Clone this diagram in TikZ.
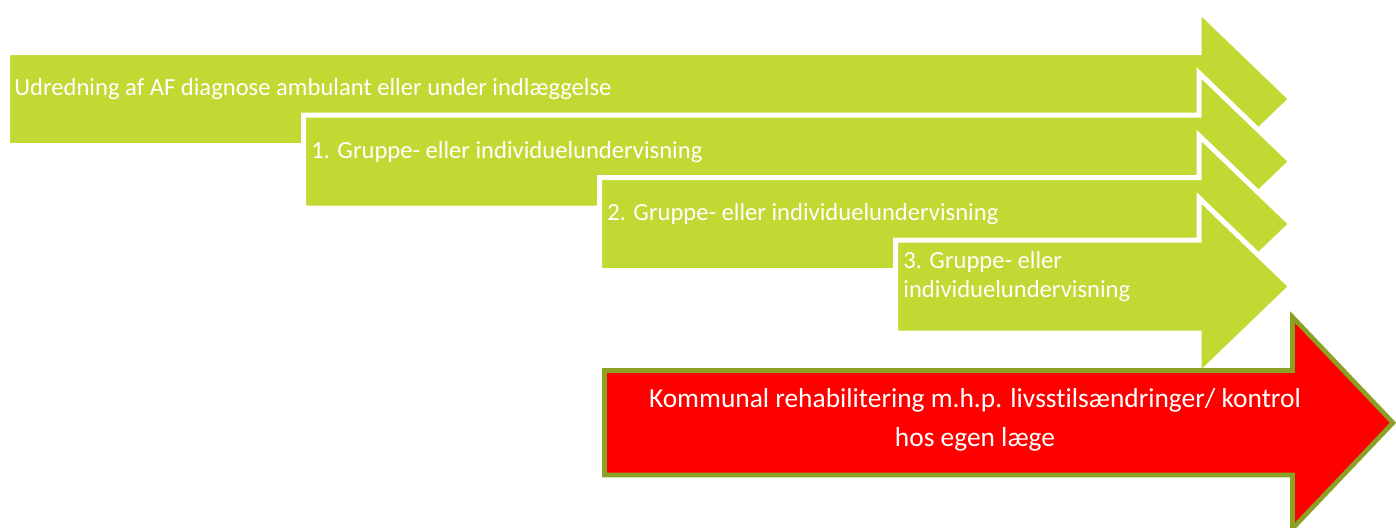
\documentclass[tikz,border=0pt]{standalone}
\usepackage{fontspec}
\setmainfont{Carlito}[Ligatures=CommonOff]
\definecolor{leafgreen}{RGB}{194,216,51}
\definecolor{olivedrab}{RGB}{139,160,36}
\definecolor{signalred}{RGB}{255,0,0}
\begin{document}
\begin{tikzpicture}[x=0.5pt, y=-0.5pt,
    greenarrow/.style={fill=leafgreen, draw=white, line width=2.5pt},
    redarrow/.style={fill=signalred, draw=olivedrab, line width=2.3pt},
    steptext/.style={anchor=base west, text=white, inner sep=0pt, align=left, font=\fontsize{12.3}{14.5}\selectfont},
    redtext/.style={anchor=base, text=white, inner sep=0pt, align=center, font=\fontsize{13.7}{19.3}\selectfont}
]
    \clip (0,0) rectangle (1396,527);

    % --- green steps ---
    \draw[greenarrow] (7.5,52.5) -- (1199,52.5) -- (1199,10.5) -- (1291,99) -- (1199,187.5) -- (1199,145.5) -- (7.5,145.5) -- cycle;
    \node[steptext] (udredning) at (14,95) {Udredning af AF diagnose ambulant eller under indlæggelse};

    \draw[greenarrow] (303.5,115) -- (1199,115) -- (1199,73) -- (1291,161.5) -- (1199,250) -- (1199,208) -- (303.5,208) -- cycle;
    \node[steptext] (gruppe1) at (311,158) {1. Gruppe- eller individuelundervisning};

    \draw[greenarrow] (599.5,177.5) -- (1199,177.5) -- (1199,135.5) -- (1291,224) -- (1199,312.5) -- (1199,270.5) -- (599.5,270.5) -- cycle;
    \node[steptext] (gruppe2) at (607,220) {2. Gruppe- eller individuelundervisning};

    \draw[greenarrow] (895.5,240) -- (1199,240) -- (1199,198) -- (1291,286.5) -- (1199,375) -- (1199,333) -- (895.5,333) -- cycle;
    % last line sits on the anchor
    \node[steptext] (gruppe3) at (903,297) {3. Gruppe- eller\\individuelundervisning};

    % --- red step ---
    \draw[redarrow] (604.5,370.5) -- (1292.5,370.5) -- (1292.5,317) -- (1393,422.75) -- (1292.5,528.5) -- (1292.5,475) -- (604.5,475) -- cycle;
    \node[redtext] (kommunal) at (975,446) {Kommunal rehabilitering m.h.p. livsstilsændringer/ kontrol\\hos egen læge};
\end{tikzpicture}
\end{document}
